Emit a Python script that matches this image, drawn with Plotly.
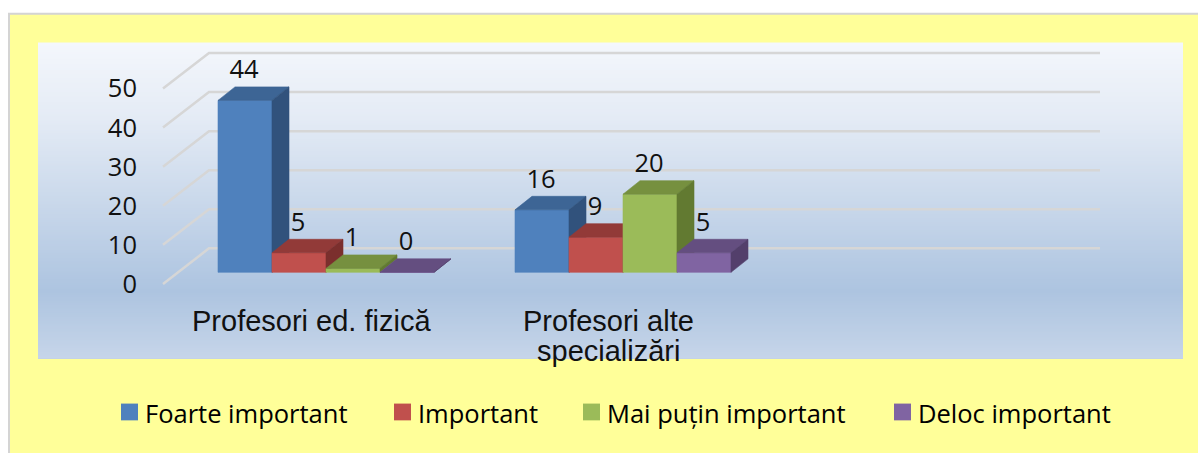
import plotly.graph_objects as go

# ---- data -------------------------------------------------------------
categories = [["Profesori ed. fizică"], ["Profesori alte", "specializări"]]
series_names = ["Foarte important", "Important", "Mai puțin important", "Deloc important"]
foarte_important = [44, 16]
important = [5, 9]
mai_putin_important = [1, 20]
deloc_important = [0, 5]
y_tick_values = [0, 10, 20, 30, 40, 50]

series_values = [foarte_important, important, mai_putin_important, deloc_important]

# front / top / side shades for each series
front_colors = ["#4f81bd", "#c0504d", "#9bbb59", "#8064a2"]
top_colors = ["#3d6595", "#923a38", "#76903f", "#644e80"]
side_colors = ["#31527c", "#7b2f2d", "#627a31", "#533f6b"]

# ---- canvas / axis geometry (pixels) -----------------------------------
W, H = 1198, 453
CAT_PX = 297.0      # distance between category centres
CAT0_PX = 326.0     # centre of first category
BASE_PX = 276.0     # pixel row of value 0 on the bar plane
UNIT_PX = 3.96      # pixels per value unit
DOM_L, DOM_R, DOM_T, DOM_B = 138, 1183, 43, 298

def ux(px):
    """horizontal pixel distance -> x-axis units"""
    return px / CAT_PX

def uy(px):
    """vertical pixel distance -> y-axis units"""
    return px / UNIT_PX

x_range = [ux(DOM_L - CAT0_PX), ux(DOM_R - CAT0_PX)]
y_range = [-uy(DOM_B - BASE_PX), uy(BASE_PX - DOM_T)]

n_series = len(series_values)
group_w = 216.0 / CAT_PX
bar_w = group_w / n_series
depth_dx = ux(17)
depth_dy = uy(13.7)

fig = go.Figure()

# ---- 3D-looking gridlines (side wall diagonal + back wall) -------------
front_off = uy(-11.7)   # value offset of the front edge
back_off = uy(24.3)     # value offset of the back wall
x_front = ux(163 - CAT0_PX)
x_back = ux(209 - CAT0_PX)
x_end = ux(1100 - CAT0_PX)
gx, gy = [], []
for v in y_tick_values:
    gx += [x_front, x_back, x_end, None]
    gy += [v + front_off, v + back_off, v + back_off, None]
fig.add_trace(go.Scatter(x=gx, y=gy, mode="lines",
                         line=dict(color="#d6d6d6", width=2.5),
                         hoverinfo="skip", showlegend=False))

# ---- bars: front, top and side faces, drawn left to right -------------
for s, vals in enumerate(series_values):
    fx, fy, tx, ty, sx, sy = [], [], [], [], [], []
    for c, v in enumerate(vals):
        left = c - group_w / 2 + s * bar_w
        right = left + bar_w
        fx += [left, right, right, left, left, None]
        fy += [0, 0, v, v, 0, None]
        tx += [left, right, right + depth_dx, left + depth_dx, left, None]
        ty += [v, v, v + depth_dy, v + depth_dy, v, None]
        sx += [right, right, right + depth_dx, right + depth_dx, right, None]
        sy += [0, v, v + depth_dy, depth_dy, 0, None]
    for xs, ys, col in ((fx, fy, front_colors[s]), (tx, ty, top_colors[s]), (sx, sy, side_colors[s])):
        fig.add_trace(go.Scatter(x=xs, y=ys, mode="lines", fill="toself",
                                 fillcolor=col, line=dict(color=col, width=0.6),
                                 hoverinfo="skip", showlegend=False))

# ---- value labels -------------------------------------------------------
lx, ly, lt = [], [], []
for s, vals in enumerate(series_values):
    for c, v in enumerate(vals):
        left = c - group_w / 2 + s * bar_w
        lx.append(left + bar_w / 2 - ux(1))
        ly.append(v + depth_dy + uy(15))
        lt.append(str(v))
fig.add_trace(go.Scatter(x=lx, y=ly, mode="text", text=lt,
                         textposition="middle center",
                         textfont=dict(family="Open Sans", size=25.5, color="#111111"),
                         hoverinfo="skip", showlegend=False))

# ---- background: framed yellow chart area + blue gradient plot area ----
shapes = [dict(type="rect", xref="paper", yref="paper", layer="below",
               x0=9 / W, x1=1.05, y0=-0.05, y1=1 - 14 / H,
               fillcolor="#ffff99", line=dict(color="#d4d4d4", width=2))]

grad_stops = [(43, (244, 247, 252)), (120, (228, 235, 245)),
              (295, (173, 196, 224)), (363, (198, 213, 233))]

def grad_color(py):
    for (p0, c0), (p1, c1) in zip(grad_stops, grad_stops[1:]):
        if p0 <= py <= p1:
            t = (py - p0) / (p1 - p0)
            return "rgb(%d,%d,%d)" % tuple(round(a + (b - a) * t) for a, b in zip(c0, c1))
    return "rgb(%d,%d,%d)" % grad_stops[-1][1]

# stacked bands: each one runs to the bottom edge, later ones cover the rest
PLOT_TOP, PLOT_BOTTOM = 43, 363
for py in range(PLOT_TOP, PLOT_BOTTOM, 2):
    shapes.append(dict(type="rect", xref="paper", yref="paper", layer="below",
                       x0=38 / W, x1=1183 / W,
                       y0=1 - PLOT_BOTTOM / H, y1=1 - py / H,
                       fillcolor=grad_color(py + 1), line=dict(width=0)))

annotations = []

# ---- category labels under each group ----------------------------------
label_shift = ux(-15)
cat_font = dict(family="Liberation Sans", size=29, color="#111111")
for c, lines in enumerate(categories):
    for k, line in enumerate(lines):
        annotations.append(dict(xref="x", yref="paper", x=c + label_shift,
                                y=1 - (325 + 31 * k) / H,
                                xanchor="center", yanchor="middle", showarrow=False,
                                text=line, font=cat_font))

# ---- legend (coloured squares + labels) --------------------------------
legend_x = [121, 394, 583, 894]
for s, name in enumerate(series_names):
    x0 = legend_x[s]
    shapes.append(dict(type="rect", xref="paper", yref="paper",
                       x0=x0 / W, x1=(x0 + 17) / W,
                       y0=1 - 426 / H, y1=1 - 409 / H,
                       fillcolor=front_colors[s], line=dict(width=0)))
    annotations.append(dict(xref="paper", yref="paper", x=(x0 + 22) / W, y=1 - 419 / H,
                            xanchor="left", yanchor="middle", showarrow=False,
                            text=name, font=dict(family="Open Sans", size=25.5, color="#000000")))

fig.update_layout(
    width=W, height=H,
    margin=dict(l=0, r=0, t=0, b=0),
    paper_bgcolor="#ffffff",
    plot_bgcolor="rgba(0,0,0,0)",
    shapes=shapes,
    annotations=annotations,
    showlegend=False,
    xaxis=dict(domain=[DOM_L / W, DOM_R / W], range=x_range,
               showgrid=False, zeroline=False, showline=False, ticks="",
               showticklabels=False, fixedrange=True),
    yaxis=dict(domain=[1 - DOM_B / H, 1 - DOM_T / H], range=y_range,
               showgrid=False, zeroline=False, showline=False, ticks="",
               tickvals=[v + front_off for v in y_tick_values],
               ticktext=[str(v) for v in y_tick_values],
               tickfont=dict(family="Open Sans", size=25.5, color="#111111"),
               ticklabelstandoff=0,
               fixedrange=True),
)

fig.write_html("out.html")
